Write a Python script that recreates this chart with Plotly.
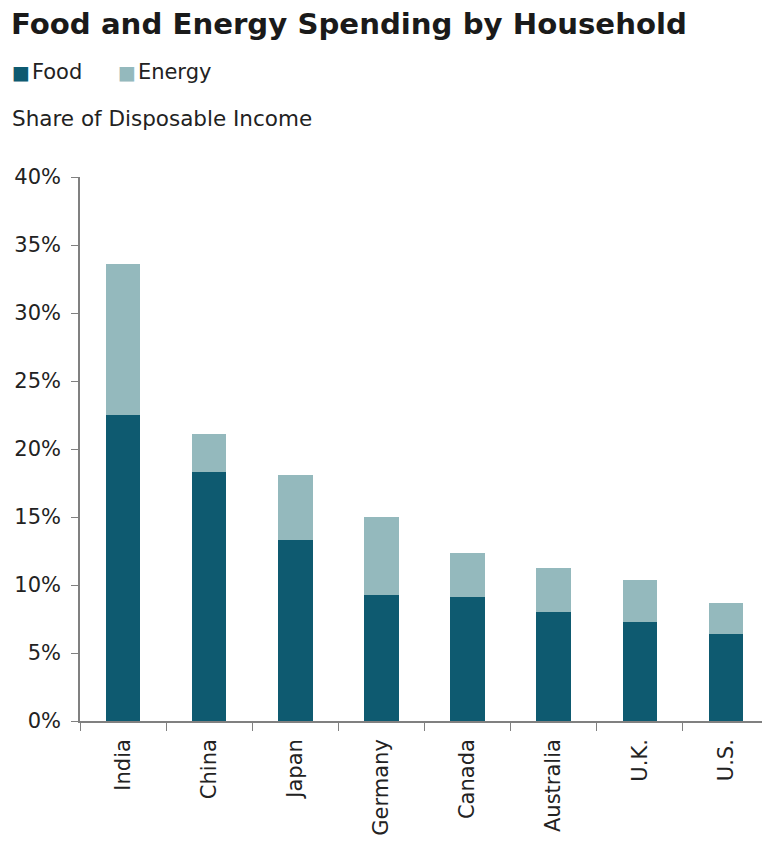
import plotly.graph_objects as go

countries = ["India", "China", "Japan", "Germany", "Canada", "Australia", "U.K.", "U.S."]
food = [22.5, 18.3, 13.3, 9.3, 9.1, 8.0, 7.3, 6.4]
energy = [11.1, 2.8, 4.8, 5.7, 3.25, 3.25, 3.1, 2.3]
y_ticks = [0, 5, 10, 15, 20, 25, 30, 35, 40]
y_tick_labels = [f"{v}%" for v in y_ticks]

FONT = "DejaVu Sans, Arial, sans-serif"
TEXT = "#222222"
AXIS = "#808080"
FOOD_COLOR = "#0e5a70"
ENERGY_COLOR = "#94b9bd"

W, H = 762, 851
L, T, B = 80, 177, 130
PLOT_W, PLOT_H = W - L, H - T - B

fig = go.Figure()
fig.add_trace(go.Bar(x=countries, y=food, name="Food", marker_color=FOOD_COLOR,
                     marker_line_width=0, width=0.4))
fig.add_trace(go.Bar(x=countries, y=energy, name="Energy", marker_color=ENERGY_COLOR,
                     marker_line_width=0, width=0.4))

fig.update_layout(
    barmode="stack",
    width=W, height=H,
    margin=dict(l=L, r=0, t=T, b=B),
    paper_bgcolor="white", plot_bgcolor="white",
    font=dict(family=FONT, size=21, color=TEXT),
    title=dict(text="<b>Food and Energy Spending by Household</b>",
               x=11 / W, xanchor="left", xref="container",
               y=1 - 24 / H, yanchor="middle", yref="container",
               font=dict(family=FONT, size=29.2, color="#1a1a1a")),
    showlegend=False,
)


def px_x(x):
    return (x - L) / PLOT_W


def px_y(y):
    return (H - B - y) / PLOT_H


# Legend row: coloured square + series name
for label, color, x0 in [("Food", FOOD_COLOR, 10), ("Energy", ENERGY_COLOR, 116)]:
    fig.add_annotation(
        text=(f"<span style='color:{color};font-size:19px'>■</span>"
              f"<span style='font-size:6px'>&nbsp;</span>{label}"),
        xref="paper", yref="paper", x=px_x(x0), y=px_y(72),
        xanchor="left", yanchor="middle", showarrow=False,
        font=dict(family=FONT, size=21, color=TEXT))

fig.add_annotation(text="Share of Disposable Income", xref="paper", yref="paper",
                   x=px_x(10), y=px_y(119),
                   xanchor="left", yanchor="middle", showarrow=False,
                   font=dict(family=FONT, size=21.5, color=TEXT))

fig.update_xaxes(range=[-0.5, 7.42], showline=True, linecolor=AXIS, linewidth=1.5,
                 ticks="outside", tickson="boundaries", ticklen=8, tickcolor=AXIS,
                 tickangle=-90, showgrid=False, ticklabelstandoff=8,
                 tickfont=dict(family=FONT, size=21, color=TEXT))
fig.update_yaxes(range=[0, 40], tickvals=y_ticks, ticktext=y_tick_labels,
                 showline=True, linecolor=AXIS, linewidth=1.5,
                 ticks="outside", ticklen=7, tickcolor=AXIS,
                 showgrid=False, zeroline=False, ticklabelstandoff=6,
                 tickfont=dict(family=FONT, size=21, color=TEXT))

fig.write_html("out.html")
